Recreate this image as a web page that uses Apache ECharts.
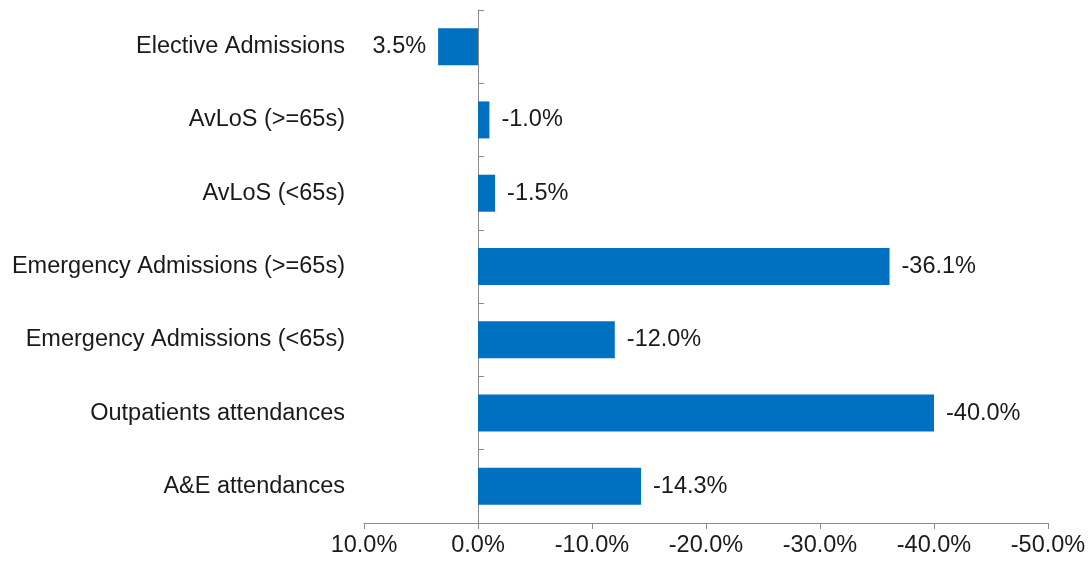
<!DOCTYPE html>
<html>
<head>
<meta charset="utf-8">
<style>
  html, body { margin: 0; padding: 0; background: #ffffff; }
  #chart { width: 1089px; height: 568px; }
</style>
<script src="https://cdn.jsdelivr.net/npm/echarts@6/dist/echarts.min.js"></script>
</head>
<body>
<div id="chart"></div>
<script>
// Categories listed top to bottom
const categories = [
  'Elective Admissions',
  'AvLoS (>=65s)',
  'AvLoS (<65s)',
  'Emergency Admissions (>=65s)',
  'Emergency Admissions (<65s)',
  'Outpatients attendances',
  'A&E attendances'
];
// Percentage change per category
const changes = [3.5, -1.0, -1.5, -36.1, -12.0, -40.0, -14.3];
// Value axis range and step (percent)
const axisMin = -50;
const axisMax = 10;
const axisStep = 10;

const FONT = '"Liberation Sans", Arial, sans-serif';
const SIZE = 23.5;
const TEXT = '#1a1a1a';
const AXIS = '#8c8c8c';
const BAR = '#0070C0';

const GRID_LEFT = 364;
const GRID_RIGHT = 41;
const CHART_W = 1089;

const fmt = v => v.toFixed(1) + '%';

// Positive values run to the left on the reversed axis, so their label sits on the left
const barData = changes.map(v => ({
  value: v,
  label: { position: v >= 0 ? 'left' : 'right' }
}));

// Horizontal distance from the plot's left edge to the zero line (axis is reversed)
const plotW = CHART_W - GRID_LEFT - GRID_RIGHT;
const zeroOffset = plotW * (axisMax - 0) / (axisMax - axisMin);

const chart = echarts.init(document.getElementById('chart'), null, { renderer: 'canvas' });
chart.setOption({
  backgroundColor: '#ffffff',
  animation: false,
  grid: { left: GRID_LEFT, right: GRID_RIGHT, top: 10, bottom: 45, containLabel: false },
  xAxis: {
    type: 'value',
    inverse: true,
    min: axisMin,
    max: axisMax,
    interval: axisStep,
    splitLine: { show: false },
    axisLine: { show: true, onZero: false, lineStyle: { color: AXIS, width: 1 } },
    axisTick: { show: true, length: 6, lineStyle: { color: AXIS } },
    axisLabel: {
      margin: 11,
      color: TEXT,
      fontFamily: FONT,
      fontSize: SIZE,
      formatter: v => fmt(v)
    }
  },
  yAxis: [
    {
      // category names along the left edge of the plot
      type: 'category',
      data: categories,
      inverse: true,
      position: 'left',
      axisLine: { show: false, onZero: false },
      axisTick: { show: false },
      axisLabel: { margin: 19, color: TEXT, fontFamily: FONT, fontSize: SIZE }
    },
    {
      // category axis line through zero, ticks pointing right
      type: 'category',
      data: categories,
      inverse: true,
      position: 'left',
      offset: -zeroOffset,
      axisLine: { show: true, onZero: false, lineStyle: { color: AXIS, width: 1 } },
      axisTick: { show: true, inside: true, length: 6, lineStyle: { color: AXIS } },
      axisLabel: { show: false }
    }
  ],
  series: [{
    type: 'bar',
    yAxisIndex: 0,
    data: barData,
    barWidth: 37,
    itemStyle: { color: BAR },
    label: {
      show: true,
      distance: 12,
      color: TEXT,
      fontFamily: FONT,
      fontSize: SIZE,
      formatter: p => fmt(p.value)
    }
  }]
});
</script>
</body>
</html>
